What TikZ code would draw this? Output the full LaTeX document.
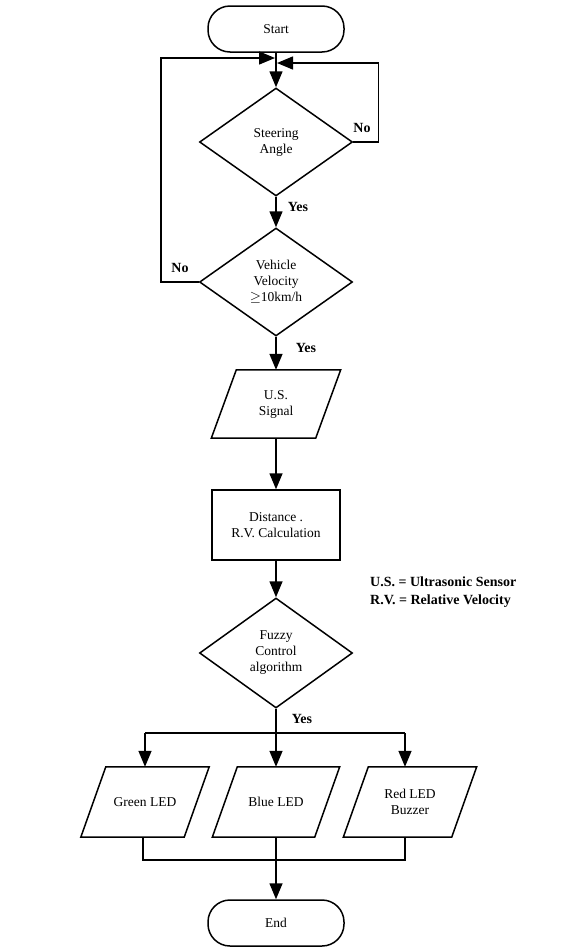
\documentclass[tikz,border=0pt]{standalone}
\usepackage{fontspec}
\setmainfont{Liberation Serif}
\usetikzlibrary{shapes.geometric,arrows.meta,calc}
\begin{document}
\begin{tikzpicture}[x=1pt,y=-1pt,
  every node/.style={font=\fontsize{13.5}{16}\selectfont, align=center, inner sep=0pt},
  line/.style={line width=1.5pt},
  arr/.style={line width=1.5pt,-{Triangle[length=16pt,width=13pt]}},
  term/.style={draw, line width=1.5pt, rectangle, rounded corners=22pt, minimum width=136pt, minimum height=46pt},
  dec/.style={draw, line width=1.5pt, diamond, minimum width=153pt, minimum height=108pt},
  proc/.style={draw, line width=1.5pt, rectangle, minimum width=128pt, minimum height=70pt},
  io/.style={rectangle, minimum height=70pt},
  pgram/.style={line width=1.5pt},
  lab/.style={font=\bfseries\fontsize{14}{17}\selectfont}
]
\useasboundingbox (0,0) rectangle (564,948);

\node[term] (start) at (276,29) {Start};
\node[dec] (steer) at (276,142) {Steering\\Angle};
\node[dec] (vel) at (276,282) {Vehicle\\Velocity\\$\geq$10km/h};
\node[io, minimum width=104pt, minimum height=68pt] (us) at (276,404) {U.S.\\Signal};
\node[proc] (dist) at (276,525) {Distance .\\R.V. Calculation};
\node[dec, minimum height=110pt] (fuzzy) at (276,653) {Fuzzy\\Control\\algorithm};
\node[io, minimum width=103pt] (green) at (145,802) {Green LED};
\node[io, minimum width=102pt] (blue) at (276,802) {Blue LED};
\node[io, minimum width=108pt] (red) at (410,802) {Red LED\\Buzzer};
\node[term] (end) at (276,923) {End};

% parallelograms
\foreach \n in {us,green,blue,red}{
  \draw[pgram] ($(\n.south west)+(-12.5,0)$) -- ($(\n.north west)+(12.5,0)$)
    -- ($(\n.north east)+(12.5,0)$) -- ($(\n.south east)+(-12.5,0)$) -- cycle;
}

\node[anchor=west, lab] (note1) at (370,582) {U.S. = Ultrasonic Sensor};
\node[anchor=west, lab] (note2) at (370,601) {R.V. = Relative Velocity};

% main flow
\draw[arr] (start.south) -- (steer.north);
\draw[arr] (steer.south) -- (vel.north);
\draw[arr] (vel.south) -- (us.north);
\draw[arr] (us.south) -- (dist.north);
\draw[arr] (dist.south) -- (fuzzy.north);
\draw[arr] (fuzzy.south) -- (blue.north);

% loops
\coordinate (jl) at (275,58);
\coordinate (jr) at (277,63);
\draw[arr] (vel.west) -- ++(-38,0) |- (jl);
\draw[arr] (steer.east) -- ++(25,0) |- (jr);

% labels
\node[lab] (no1) at (362,128) {No};
\node[lab] (no2) at (180,268) {No};
\node[lab] (yes1) at (298,207) {Yes};
\node[lab] (yes2) at (306,348) {Yes};
\node[lab] (yes3) at (302,719) {Yes};

% branch bar
\coordinate (bl) at (145,733);
\coordinate (br) at (405,733);
\draw[line] (bl) -- (br);
\draw[arr] (bl) -- (bl |- green.north);
\draw[arr] (br) -- (br |- red.north);

% merge bar
\coordinate (ml) at (143,860);
\coordinate (mr) at (405,860);
\draw[line] (ml |- green.south) -- (ml) -- (mr) -- (mr |- red.south);
\draw[arr] (blue.south) -- (end.north);
\end{tikzpicture}
\end{document}
